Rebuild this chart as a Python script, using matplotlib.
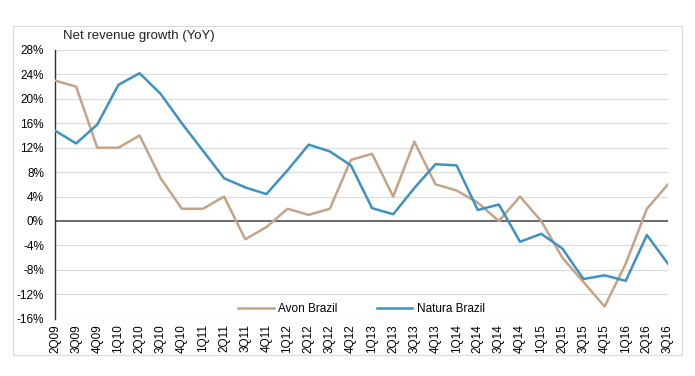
import matplotlib
matplotlib.use("Agg")
import matplotlib.pyplot as plt
from matplotlib.patches import Rectangle
from matplotlib.ticker import FuncFormatter

quarters = ["2Q09", "3Q09", "4Q09",
            "1Q10", "2Q10", "3Q10", "4Q10",
            "1Q11", "2Q11", "3Q11", "4Q11",
            "1Q12", "2Q12", "3Q12", "4Q12",
            "1Q13", "2Q13", "3Q13", "4Q13",
            "1Q14", "2Q14", "3Q14", "4Q14",
            "1Q15", "2Q15", "3Q15", "4Q15",
            "1Q16", "2Q16", "3Q16"]

avon = [23, 22, 12, 12, 14, 7, 2, 2, 4, -3, -1, 2, 1, 2, 10, 11, 4, 13, 6, 5,
        3, 0, 4, 0, -6, -10, -14, -7, 2, 6]
natura = [14.8, 12.7, 15.8, 22.3, 24.2, 20.8, 16.0, 11.5, 7.0, 5.5, 4.4, 8.3,
          12.5, 11.4, 9.1, 2.1, 1.1, 5.4, 9.3, 9.1, 1.8, 2.7, -3.4, -2.1,
          -4.5, -9.5, -8.9, -9.8, -2.3, -7.0]

yticks = list(range(-16, 29, 4))

plt.rcParams['font.family'] = ['Liberation Sans', 'DejaVu Sans']

fig = plt.figure(figsize=(6.95, 3.76), dpi=100)
fig.patch.set_facecolor('white')
fig.patches.append(Rectangle((13 / 695, 1 - 355 / 376), (682 - 13) / 695, (355 - 25.5) / 376,
                             transform=fig.transFigure, fill=False,
                             edgecolor='#d9d9d9', linewidth=0.8))

ax = fig.add_axes([55 / 695, 1 - 318.7 / 376, (668 - 55) / 695, (318.7 - 50) / 376])
x = list(range(len(quarters)))
ax.plot(x, avon, color='#c4a487', linewidth=1.8, label='Avon Brazil', zorder=3)
ax.plot(x, natura, color='#3d92c4', linewidth=1.8, label='Natura Brazil', zorder=3)

ax.set_xlim(0, len(quarters) - 1)
ax.set_ylim(-16, 28)
ax.set_yticks(yticks)
ax.yaxis.set_major_formatter(FuncFormatter(lambda v, p: f"{int(v)}%"))
ax.set_xticks(x)
ax.set_xticklabels(quarters, rotation=90, fontsize=8.5)
ax.tick_params(axis='y', labelsize=8.5, length=0, pad=8)
ax.tick_params(axis='x', length=0, pad=4)
for t in yticks:
    if t != 0:
        ax.axhline(t, color='#dcdcdc', linewidth=0.9, zorder=1)
ax.axhline(0, color='#404040', linewidth=1.1, zorder=2)
for s in ['top', 'right', 'bottom']:
    ax.spines[s].set_visible(False)
ax.spines['left'].set_color('#303030')
ax.spines['left'].set_linewidth(1.0)

ax.text(63 / 695, 1 - 36 / 376, "Net revenue growth (YoY)", transform=fig.transFigure,
        fontsize=9.5, va='center', ha='left', color='#222222')

ax.legend(loc='lower center', bbox_to_anchor=(0.5, -0.025), ncol=2, frameon=False,
          fontsize=8.5, handlelength=3, columnspacing=3.3, handletextpad=0.4)

fig.savefig("out.png", dpi=100)
